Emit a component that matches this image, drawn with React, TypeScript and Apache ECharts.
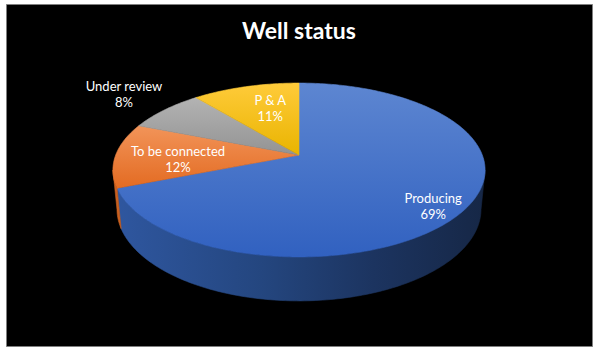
import { useEffect, useRef } from 'react';
import * as echarts from 'echarts';

const TITLE = 'Well status';
const CATEGORIES = ['Producing', 'To be connected', 'Under review', 'P & A'];
const VALUES = [69, 12, 8, 11];

// styles (not data)
const TOP_COLORS = [
  ['#5d86d1', '#3161c0'],
  ['#f29459', '#e36b22'],
  ['#b3b3b3', '#939393'],
  ['#ffcb3a', '#e9b400'],
];
const SIDE_COLORS = [
  ['#2f57a0', '#24467f', '#1c3460', '#162746'],
  ['#c9601f', '#b85519', '#a44a15', '#8e3f12'],
  ['#8a8a8a', '#777777', '#666666', '#555555'],
  ['#d9a400', '#c49300', '#ad8200', '#957000'],
];
const LABEL_RADIUS = [0.815, 0.66, 1.34, 0.5];
const LABEL_DY = [9, 4, -3, -10];

// projection of the tilted disc
const CX = 299;
const CY = 155;
const FOCAL = 944;
const DIST = 5.15;
const TILT = (27.4 * Math.PI) / 180;
const THICK = 0.243;
const S = Math.sin(TILT);
const C = Math.cos(TILT);
const SIL = Math.acos(-C / DIST);

function project(theta: number, r: number, y: number): number[] {
  const X = r * Math.sin(theta);
  const Z = r * Math.cos(theta);
  const yup = Z * S + y * C;
  const depth = DIST + Z * C - y * S;
  return [CX + (FOCAL * X) / depth, CY - (FOCAL * yup) / depth];
}

const TOTAL = VALUES.reduce((a, b) => a + b, 0);
const STARTS: number[] = [];
VALUES.reduce((acc, v, i) => {
  STARTS[i] = acc;
  return acc + v;
}, 0);

function renderItem(params: any, api: any) {
  const i = params.dataIndex;
  const v = api.value(0) as number;
  const a0 = (STARTS[i] / TOTAL) * Math.PI * 2;
  const a1 = a0 + (v / TOTAL) * Math.PI * 2;
  const step = Math.PI / 180;
  const children: any[] = [];

  // side wall
  const lo = Math.max(a0, SIL);
  const hi = Math.min(a1, Math.PI * 2 - SIL);
  if (hi > lo) {
    const n = Math.max(2, Math.ceil((hi - lo) / step));
    const pts: number[][] = [];
    for (let k = 0; k <= n; k++) pts.push(project(lo + ((hi - lo) * k) / n, 1, 0));
    for (let k = n; k >= 0; k--) pts.push(project(lo + ((hi - lo) * k) / n, 1, -THICK));
    const sc = SIDE_COLORS[i];
    const grad = new echarts.graphic.LinearGradient(
      113, 0, 485, 0,
      [
        { offset: 0, color: sc[0] },
        { offset: 0.4, color: sc[1] },
        { offset: 0.7, color: sc[2] },
        { offset: 1, color: sc[3] },
      ],
      true
    );
    children.push({
      type: 'polygon',
      shape: { points: pts },
      style: { fill: grad, stroke: grad, lineWidth: 0.6 },
    });
  }

  // top face
  const n2 = Math.max(2, Math.ceil((a1 - a0) / step));
  const top: number[][] = [project(0, 0, 0)];
  for (let k = 0; k <= n2; k++) top.push(project(a0 + ((a1 - a0) * k) / n2, 1, 0));
  const tc = TOP_COLORS[i];
  const tgrad = new echarts.graphic.LinearGradient(0, 0, 0, 1, [
    { offset: 0, color: tc[0] },
    { offset: 1, color: tc[1] },
  ]);
  children.push({
    type: 'polygon',
    shape: { points: top },
    style: { fill: tgrad, stroke: tgrad, lineWidth: 0.6, lineJoin: 'round' },
  });

  // label
  const mid = (a0 + a1) / 2;
  const [lx, ly] = project(mid, LABEL_RADIUS[i], 0);
  children.push({
    type: 'text',
    z2: 10,
    style: {
      text: `${CATEGORIES[i]}\n${Math.round((v / TOTAL) * 100)}%`,
      x: lx,
      y: ly + LABEL_DY[i],
      fill: '#ffffff',
      fontSize: 13,
      fontFamily: 'Lato',
      align: 'center',
      verticalAlign: 'middle',
      lineHeight: 16,
    },
  });

  return { type: 'group', children };
}

export default function App() {
  const ref = useRef<HTMLDivElement>(null);
  useEffect(() => {
    if (!ref.current) return;
    const chart = echarts.init(ref.current, undefined, { renderer: 'svg' });
    chart.setOption({
      animation: false,
      backgroundColor: '#ffffff',
      graphic: [
        {
          type: 'rect',
          z: 0,
          shape: { x: 6.5, y: 4.5, width: 586, height: 342 },
          style: { fill: '#000000', stroke: '#7f7f7f', lineWidth: 1 },
        },
        {
          type: 'text',
          z: 1,
          style: {
            text: TITLE,
            x: 299,
            y: 30,
            fill: '#ffffff',
            fontSize: 23,
            fontWeight: 'bold',
            fontFamily: 'Lato',
            align: 'center',
            verticalAlign: 'middle',
          },
        },
      ],
      series: [
        {
          type: 'custom',
          coordinateSystem: 'none',
          z: 5,
          silent: true,
          data: VALUES,
          renderItem,
        },
      ],
    });
    return () => chart.dispose();
  }, []);
  return (
    <div
      ref={ref}
      style={{ position: 'fixed', left: 0, top: 0, width: 602, height: 351, background: '#fff' }}
    />
  );
}
